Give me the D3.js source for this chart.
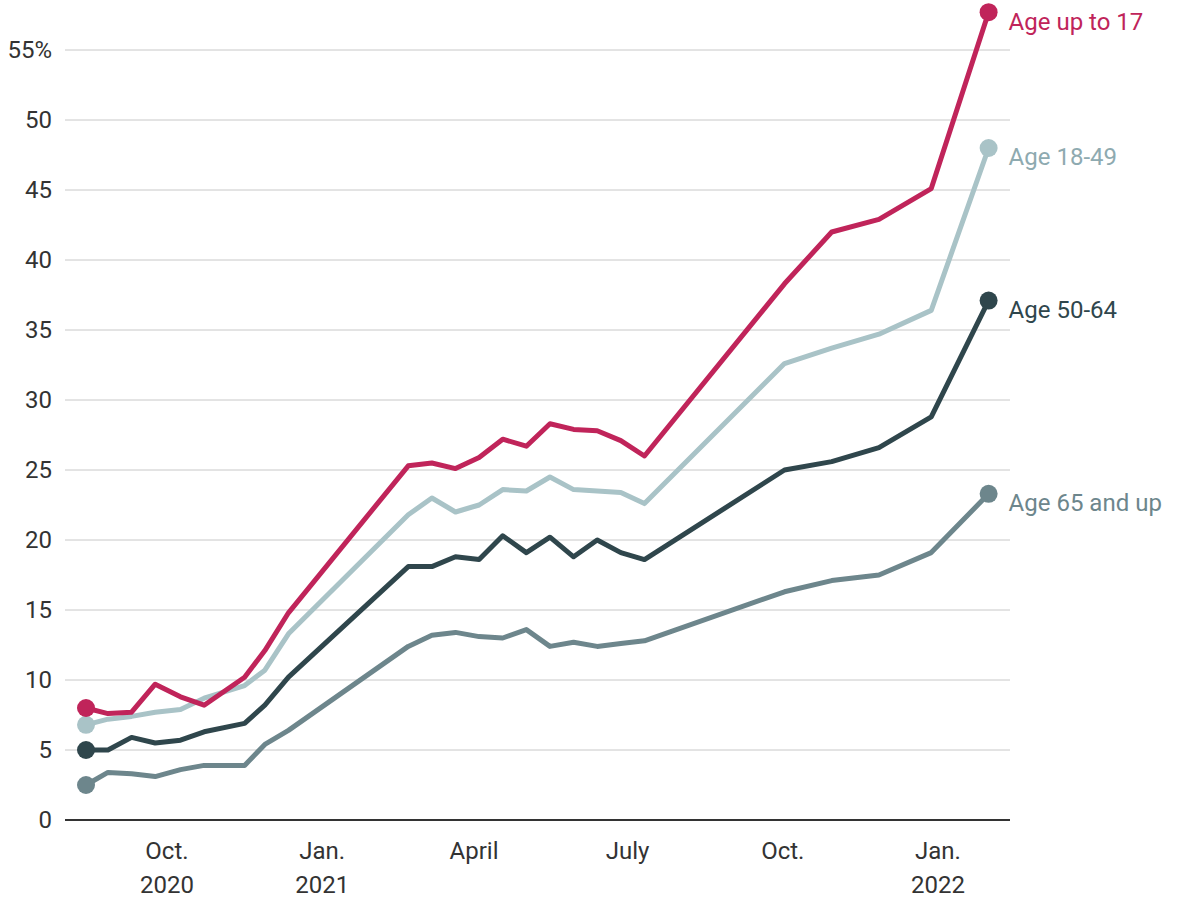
<!DOCTYPE html><html><head><meta charset="utf-8"><script src="https://cdn.jsdelivr.net/npm/d3@7"></script>
<style>body{margin:0;background:#fff}text{font-family:"Roboto","Liberation Sans",sans-serif}</style></head><body>
<svg id="c" width="1200" height="900"></svg>
<script>
const dates=["2020-08-14","2020-08-27","2020-09-10","2020-09-24","2020-10-09","2020-10-23","2020-11-16","2020-11-28","2020-12-12","2021-02-21","2021-03-07","2021-03-21","2021-04-04","2021-04-18","2021-05-02","2021-05-16","2021-05-30","2021-06-13","2021-06-27","2021-07-11","2021-10-02","2021-10-30","2021-11-27","2021-12-28","2022-01-31"];
const age0_17=[8.0,7.6,7.7,9.7,8.8,8.2,10.2,12.1,14.8,25.3,25.5,25.1,25.9,27.2,26.7,28.3,27.9,27.8,27.1,26.0,38.3,42.0,42.9,45.1,57.7];
const age18_49=[6.8,7.2,7.4,7.7,7.9,8.7,9.6,10.7,13.3,21.8,23.0,22.0,22.5,23.6,23.5,24.5,23.6,23.5,23.4,22.6,32.6,33.7,34.7,36.4,48.0];
const age50_64=[5.0,5.0,5.9,5.5,5.7,6.3,6.9,8.2,10.2,18.1,18.1,18.8,18.6,20.3,19.1,20.2,18.8,20.0,19.1,18.6,25.0,25.6,26.6,28.8,37.1];
const age65=[2.5,3.4,3.3,3.1,3.6,3.9,3.9,5.4,6.4,12.4,13.2,13.4,13.1,13.0,13.6,12.4,12.7,12.4,12.6,12.8,16.3,17.1,17.5,19.1,23.3];
const seriesNames=["Age up to 17","Age 18-49","Age 50-64","Age 65 and up"];
const colors=["#c0245a","#a9c3c7","#2f464c","#6d868c"];
const labelColors=["#c0245a","#8eaab0","#2f464c","#6d868c"];
const yTicks=[0,5,10,15,20,25,30,35,40,45,50,55];
const xTicks=[["2020-10-01","Oct.","2020"],["2021-01-01","Jan.","2021"],["2021-04-01","April",""],["2021-07-01","July",""],["2021-10-01","Oct.",""],["2022-01-01","Jan.","2022"]];
const P=d3.timeParse("%Y-%m-%d");
const svg=d3.select("#c");
const x=d3.scaleTime().domain([P("2020-10-01"),P("2022-01-01")]).range([167,938]);
const y=d3.scaleLinear().domain([0,55]).range([820,50]);
const g=svg.append("g");
yTicks.forEach(t=>{
  if(t>0)g.append("line").attr("x1",65).attr("x2",1010).attr("y1",y(t)).attr("y2",y(t)).attr("stroke","#c8c8c8").attr("stroke-width",1);
  g.append("text").attr("x",52).attr("y",y(t)).attr("dy","0.35em").attr("text-anchor","end").attr("font-size",24).attr("fill","#333").text(t==55?"55%":t);
});
g.append("line").attr("x1",65).attr("x2",1010).attr("y1",y(0)).attr("y2",y(0)).attr("stroke","#333").attr("stroke-width",2);
xTicks.forEach(([d,a,b])=>{
  const xx=x(P(d));
  g.append("text").attr("x",xx).attr("y",859).attr("text-anchor","middle").attr("font-size",24).attr("fill","#333").text(a);
  if(b)g.append("text").attr("x",xx).attr("y",893).attr("text-anchor","middle").attr("font-size",24).attr("fill","#333").text(b);
});
const all=[age0_17,age18_49,age50_64,age65];
const line=d3.line().x((d,i)=>x(P(dates[i]))).y(d=>y(d));
[3,2,1,0].forEach(k=>{
  const s=all[k];
  svg.append("path").attr("d",line(s)).attr("fill","none").attr("stroke",colors[k]).attr("stroke-width",5).attr("stroke-linejoin","round");
  [0,s.length-1].forEach(i=>svg.append("circle").attr("cx",x(P(dates[i]))).attr("cy",y(s[i])).attr("r",9).attr("fill",colors[k]));
  svg.append("text").attr("x",x(P(dates[s.length-1]))+20).attr("y",y(s[s.length-1])+9).attr("dy","0.35em").attr("font-size",24).attr("fill",labelColors[k]).text(seriesNames[k]);
});
</script></body></html>
